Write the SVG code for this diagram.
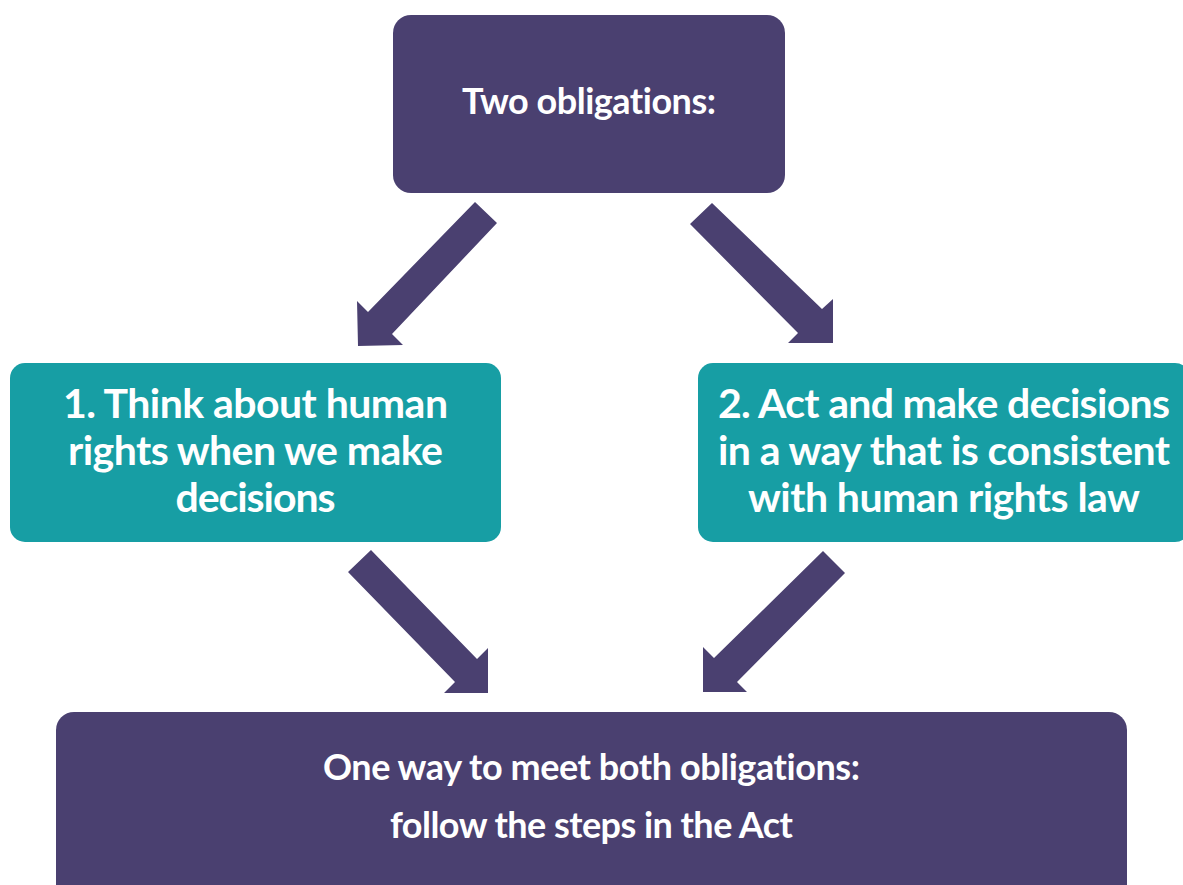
<svg xmlns="http://www.w3.org/2000/svg" width="1183" height="885" viewBox="0 0 1183 885">
<style>
.purple{fill:#4a4070}
.teal{fill:#179ea4}
.arrow{fill:#4a4070}
text{font-family:"Lato","Open Sans","Liberation Sans",sans-serif;font-weight:bold;fill:#ffffff;text-anchor:middle;font-variant-ligatures:none}
.t1{font-size:36px}
.t2{font-size:41px}
</style>
<rect width="1183" height="885" fill="#ffffff"/>
<g id="connectors">
<polygon class="arrow" points="475,202 497,223 392,334 403,345 358,346 357,301 368,312"/>
<polygon class="arrow" points="712,203 822,309 833,299 833,343 788,343 798,333 690,224"/>
<polygon class="arrow" points="371,550 477,659 488,648 488,693 444,693 455,682 348,572"/>
<polygon class="arrow" points="823,551 845,573 737,682 747,692 703,692 703,647 714,658"/>
</g>
<g id="node-top">
<rect class="purple" x="393" y="15" width="392" height="178" rx="18"/>
<text class="t1" x="589" y="114" textLength="254">Two obligations:</text>
</g>
<g id="node-left">
<rect class="teal" x="10" y="363" width="491" height="179" rx="15"/>
<text class="t2" x="255.5" y="418" textLength="385">1. Think about human</text>
<text class="t2" x="255.5" y="465" textLength="375">rights when we make</text>
<text class="t2" x="255.5" y="512" textLength="160">decisions</text>
</g>
<g id="node-right">
<rect class="teal" x="698" y="363" width="492" height="179" rx="15"/>
<text class="t2" x="944" y="418" textLength="452">2. Act and make decisions</text>
<text class="t2" x="944" y="465" textLength="452">in a way that is consistent</text>
<text class="t2" x="944" y="512" textLength="392">with human rights law</text>
</g>
<g id="node-bottom">
<rect class="purple" x="56" y="712" width="1071" height="200" rx="18"/>
<text class="t1" x="591.5" y="780" textLength="537">One way to meet both obligations:</text>
<text class="t1" x="591.5" y="838" textLength="403">follow the steps in the Act</text>
</g>
</svg>
